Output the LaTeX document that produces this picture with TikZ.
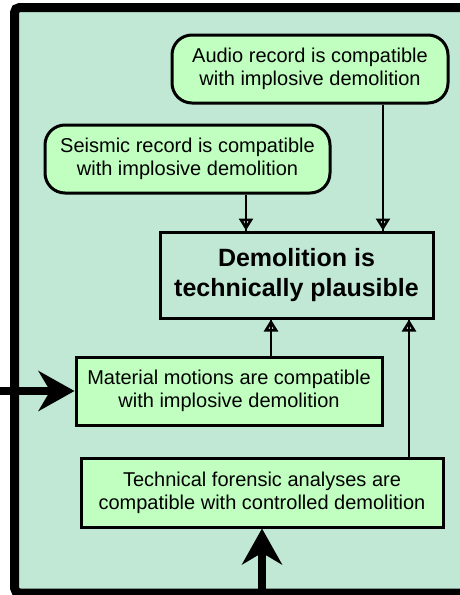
\documentclass[tikz,border=0pt]{standalone}
\usepackage{fontspec}
\setmainfont{Liberation Sans}
\usetikzlibrary{arrows.meta,positioning}

\definecolor{panelmint}{RGB}{192,232,213}
\definecolor{claimgreen}{RGB}{192,255,192}

\begin{document}
\begin{tikzpicture}[x=1pt, y=1pt, on grid,
	claim/.style={draw, line width=3pt, fill=claimgreen, align=center, inner sep=0pt,
		font=\fontsize{20}{23}\selectfont},
	evidence/.style={claim, rounded corners=20pt},
	support/.style={line width=2.6pt, -{Triangle[open,length=12pt,width=14pt]}, postaction={draw,-}},
	inflow/.style={line width=8pt, -{Stealth[length=36pt,width=40pt]}}]
	\useasboundingbox (0,0) rectangle (459,-595);
	% panel
	\draw[line width=9pt, fill=panelmint, rounded corners=5pt] (14.5,-7.5) rectangle (475,-593);
	% claims
	\node[claim, fill=panelmint, minimum width=273pt, minimum height=86pt, font=\bfseries\fontsize{25}{30}\selectfont]
		(plausible) at (296.5,-275) {Demolition is\\technically plausible};
	\node[evidence, minimum width=276pt, minimum height=68pt] (audio)     [above right=206pt and 13.5pt of plausible] {Audio record is compatible\\with implosive demolition};
	\node[evidence, minimum width=285pt, minimum height=68pt] (seismic)   [above left=116pt and 109pt of plausible]  {Seismic record is compatible\\with implosive demolition};
	\node[claim,    minimum width=306pt, minimum height=68pt] (material)  [below left=116pt and 67.5pt of plausible] {Material motions are compatible\\with implosive demolition};
	\node[claim,    minimum width=362pt, minimum height=69pt] (technical) [below left=217.5pt and 34.5pt of plausible] {Technical forensic analyses are\\compatible with controlled demolition};
	% supports
	\draw[support] ([xshift=58.5pt]seismic.south) -- ([xshift=58.5pt]seismic.south |- plausible.north);
	\draw[support] ([xshift=73pt]audio.south) -- ([xshift=73pt]audio.south |- plausible.north);
	\draw[support] ([xshift=42pt]material.north) -- ([xshift=42pt]material.north |- plausible.south);
	\draw[support] ([xshift=147pt]technical.north) -- ([xshift=147pt]technical.north |- plausible.south);
	% incoming
	\coordinate (leftin)   at (0,-391);
	\coordinate (bottomin) at (262,-600);
	\draw[inflow] (leftin) -- (material.west);
	\draw[inflow] (bottomin) -- (technical.south);
\end{tikzpicture}
\end{document}
